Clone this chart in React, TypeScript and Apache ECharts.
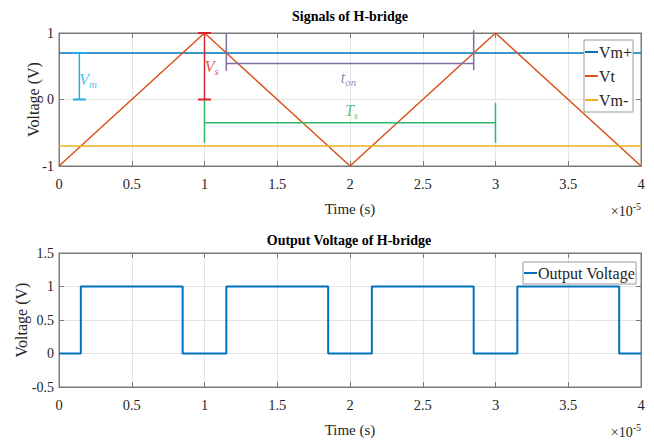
import React, { useEffect, useRef } from "react";
import * as echarts from "echarts";

// Time values are in units of 1e-5 s (axis shows ×10^-5)
const vtTime = [0, 1, 2, 3, 4];
const vtValue = [-1, 1, -1, 1, -1];
const vmPlusTime = [0, 4];
const vmPlusValue = [0.7, 0.7];
const vmMinusTime = [0, 4];
const vmMinusValue = [-0.7, -0.7];
const outTime = [0, 0.15, 0.85, 1.15, 1.85, 2.15, 2.85, 3.15, 3.85, 4];
const outValue = [0, 1, 0, 1, 0, 1, 0, 1, 0, 0];

// annotation brackets: [t, fromV, toV] for vertical, [t1, t2, v] for horizontal
const vmBar = [0.14, 0.7, 0];
const vsBar = [1, 1, 0];
const tonLine = [1.15, 2.85, 0.54];
const tonLeft = [1.15, 1, 0.43];
const tonRight = [2.85, 1.04, 0.44];
const tsLine = [1, 3, -0.35];
const tsLeft = [1, 0, -0.65];
const tsRight = [3, -0.05, -0.65];
// annotation label anchors [t, v]
const vmLabelAt = [0.2, 0.3];
const vsLabelAt = [1.05, 0.49];
const tonLabelAt = [1.99, 0.33];
const tsLabelAt = [2.01, -0.17];

const FONT = "Liberation Serif";
const AX = "#7a7a7a";
const LBL = "#262626";

const vert = (a: number[]) => [[a[0], a[1]], [a[0], a[2]]];
const horiz = (a: number[]) => [[a[0], a[2]], [a[1], a[2]]];

export default function App() {
  const ref = useRef<HTMLDivElement>(null);
  useEffect(() => {
    const chart = echarts.init(ref.current!, undefined, { renderer: "svg" });

    const baseX = (grid: number, top: boolean) => ({
      type: "value" as const,
      gridIndex: grid,
      min: 0,
      max: 4,
      interval: 0.5,
      position: top ? "top" : "bottom",
      axisLine: { show: true, onZero: false, lineStyle: { color: AX, width: 1 } },
      axisTick: { show: true, inside: true, length: 5, lineStyle: { color: AX } },
      axisLabel: top
        ? { show: false }
        : { show: true, margin: 10, color: LBL, fontFamily: FONT, fontSize: 14.5, formatter: (v: number) => String(v) },
      splitLine: { show: !top, lineStyle: { color: "#e4e4e4" } },
      name: top ? "" : "Time (s)",
      nameLocation: "middle" as const,
      nameGap: 35,
      nameMoveOverlap: false,
      nameTextStyle: { color: LBL, fontFamily: FONT, fontSize: 15 },
    });
    const baseY = (grid: number, right: boolean, min: number, max: number, interval: number, gap: number) => ({
      type: "value" as const,
      gridIndex: grid,
      min,
      max,
      interval,
      position: right ? "right" : "left",
      axisLine: { show: true, onZero: false, lineStyle: { color: AX, width: 1 } },
      axisTick: { show: true, inside: true, length: 5, lineStyle: { color: AX } },
      axisLabel: right
        ? { show: false }
        : { show: true, margin: 5, color: LBL, fontFamily: FONT, fontSize: 14, formatter: (v: number) => String(v) },
      splitLine: { show: !right, lineStyle: { color: "#e4e4e4" } },
      name: right ? "" : "Voltage (V)",
      nameLocation: "middle" as const,
      nameGap: gap,
      nameMoveOverlap: false,
      nameTextStyle: { color: LBL, fontFamily: FONT, fontSize: 16 },
    });

    const annoLine = (data: number[][], color: string, caps: boolean) => ({
      type: "line",
      xAxisIndex: 0,
      yAxisIndex: 0,
      data,
      silent: true,
      clip: false,
      showSymbol: caps,
      symbol: caps ? "rect" : "none",
      symbolSize: [13, 2],
      itemStyle: { color },
      lineStyle: { color, width: 1.5 },
      z: 3,
    });
    const annoLabel = (at: number[], main: string, sub: string, color: string) => ({
      type: "scatter",
      xAxisIndex: 0,
      yAxisIndex: 0,
      data: [at],
      symbolSize: 0,
      silent: true,
      label: {
        show: true,
        position: "inside",
        formatter: `{v|${main}}{s|${sub}}`,
        rich: {
          v: { fontFamily: FONT, fontStyle: "italic", fontSize: 16, color },
          s: { fontFamily: FONT, fontStyle: "italic", fontSize: 11, color, padding: [8, 0, 0, 0] },
        },
      },
      z: 4,
    });
    const scaleText = (y: number) => ({
      type: "text",
      x: 641,
      y,
      style: {
        text: "{a|×10}{b|-5}",
        textAlign: "right",
        textVerticalAlign: "middle",
        rich: {
          a: { fontFamily: FONT, fontSize: 14, fill: LBL, padding: [4, 0, 0, 0] },
          b: { fontFamily: FONT, fontSize: 10, fill: LBL, padding: [0, 0, 6, 0] },
        },
      },
    });

    chart.setOption({
      animation: false,
      backgroundColor: "#ffffff",
      grid: [
        { left: 59, top: 33, width: 582, height: 133, show: true, borderColor: AX, borderWidth: 1 },
        { left: 59, top: 253, width: 582, height: 134, show: true, borderColor: AX, borderWidth: 1 },
      ],
      xAxis: [baseX(0, false), baseX(0, true), baseX(1, false), baseX(1, true)],
      yAxis: [
        baseY(0, false, -1, 1, 1, 18),
        baseY(0, true, -1, 1, 1, 18),
        baseY(1, false, -0.5, 1.5, 0.5, 30),
        baseY(1, true, -0.5, 1.5, 0.5, 30),
      ],
      legend: [
        {
          data: ["Vm+", "Vt", "Vm-"],
          orient: "vertical",
          left: 584,
          top: 40,
          padding: [4, 1, 4, 1],
          itemGap: 8,
          itemWidth: 13,
          itemHeight: 2,
          icon: "rect",
          backgroundColor: "#ffffff",
          borderColor: "#9a9a9a",
          borderWidth: 1,
          z: 10,
          textStyle: { fontFamily: FONT, fontSize: 16, color: LBL, padding: [0, 0, 0, -4] },
        },
        {
          data: ["Output Voltage"],
          orient: "vertical",
          left: 523,
          top: 262,
          padding: [3, 1, 3, 1],
          itemWidth: 13,
          itemHeight: 2,
          icon: "rect",
          backgroundColor: "#ffffff",
          borderColor: "#9a9a9a",
          borderWidth: 1,
          z: 10,
          textStyle: { fontFamily: FONT, fontSize: 16, color: LBL, padding: [0, 0, 0, -4] },
        },
      ],
      graphic: [
        {
          type: "text",
          x: 350,
          y: 16,
          style: { text: "Signals of H-bridge", fill: "#000", font: `bold 14px "${FONT}"`, textAlign: "center", textVerticalAlign: "middle" },
        },
        {
          type: "text",
          x: 349,
          y: 240,
          style: { text: "Output Voltage of H-bridge", fill: "#000", font: `bold 14px "${FONT}"`, textAlign: "center", textVerticalAlign: "middle" },
        },
        scaleText(209),
        scaleText(430),
      ],
      series: [
        {
          name: "Vm+",
          type: "line",
          xAxisIndex: 0,
          yAxisIndex: 0,
          data: vmPlusTime.map((t, i) => [t, vmPlusValue[i]]),
          showSymbol: false,
          itemStyle: { color: "#0072BD" },
          lineStyle: { color: "#0072BD", width: 1.5 },
        },
        {
          name: "Vt",
          type: "line",
          xAxisIndex: 0,
          yAxisIndex: 0,
          data: vtTime.map((t, i) => [t, vtValue[i]]),
          showSymbol: false,
          itemStyle: { color: "#D95319" },
          lineStyle: { color: "#D95319", width: 1.5 },
        },
        {
          name: "Vm-",
          type: "line",
          xAxisIndex: 0,
          yAxisIndex: 0,
          data: vmMinusTime.map((t, i) => [t, vmMinusValue[i]]),
          showSymbol: false,
          itemStyle: { color: "#EDB120" },
          lineStyle: { color: "#EDB120", width: 1.5 },
        },
        {
          name: "Output Voltage",
          type: "line",
          xAxisIndex: 2,
          yAxisIndex: 2,
          step: "end",
          data: outTime.map((t, i) => [t, outValue[i]]),
          showSymbol: false,
          itemStyle: { color: "#0072BD" },
          lineStyle: { color: "#0072BD", width: 2 },
        },
        annoLine(vert(vmBar), "#22aee6", true),
        annoLine(vert(vsBar), "#d7262e", true),
        annoLine(horiz(tonLine), "#7e6ea6", false),
        annoLine(vert(tonLeft), "#7e6ea6", false),
        annoLine(vert(tonRight), "#7e6ea6", false),
        annoLine(horiz(tsLine), "#2fb56b", false),
        annoLine(vert(tsLeft), "#2fb56b", false),
        annoLine(vert(tsRight), "#2fb56b", false),
        annoLabel(vmLabelAt, "V", "m", "#22aee6"),
        annoLabel(vsLabelAt, "V", "s", "#d7262e"),
        annoLabel(tonLabelAt, "t", "on", "#7e6ea6"),
        annoLabel(tsLabelAt, "T", "s", "#2fb56b"),
      ],
    });
    return () => chart.dispose();
  }, []);
  return <div ref={ref} style={{ position: "fixed", left: 0, top: 0, width: 654, height: 442 }} />;
}
